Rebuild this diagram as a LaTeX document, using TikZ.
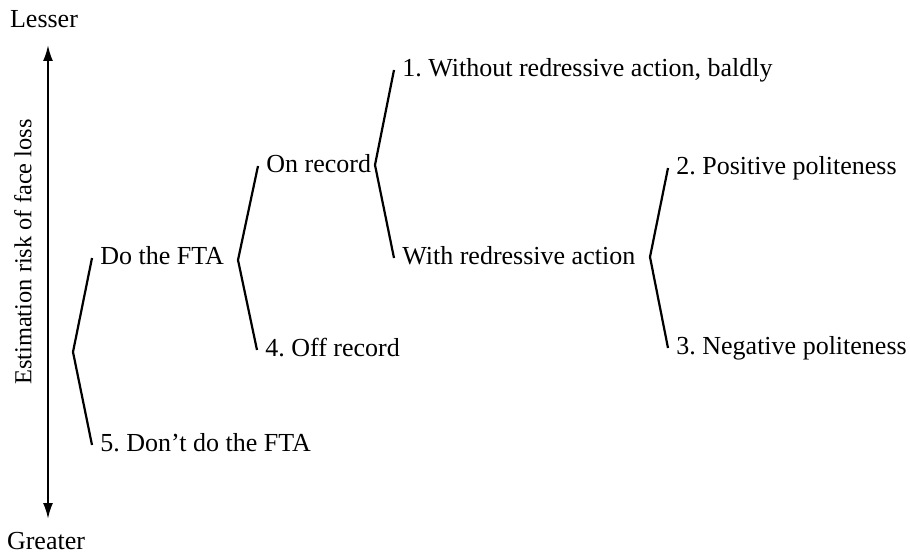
\documentclass[tikz,border=0pt]{standalone}
\usepackage{fontspec}
\setmainfont{Liberation Serif}
\usetikzlibrary{arrows.meta}
\frenchspacing

\begin{document}
\begin{tikzpicture}[
  x=0.5pt, y=-0.5pt,
  strategy/.style={anchor=west, inner xsep=4pt, inner ysep=0pt,
                   font=\fontsize{13}{15}\selectfont,
                   text height=9pt, text depth=2.5pt},
  branch/.style={line width=1.1pt},
  axis/.style={{Latex[length=8pt,width=5pt]}-{Latex[length=8pt,width=5pt]}, line width=1.1pt},
]
\useasboundingbox (0,0) rectangle (910,556);

% --- Risk axis ---
\node[strategy, anchor=center] (lesser) at (44,21) {Lesser};
\node[strategy, anchor=center] (greater) at (46,543) {Greater};
\node[strategy, anchor=center, rotate=90, font=\fontsize{12.2}{14}\selectfont] (risk) at (25,252) {Estimation risk of face loss};
\coordinate (top) at (48,45);
\coordinate (bot) at (48,519);
\draw[axis] (top) -- (bot);

% --- Strategies ---
\coordinate (v1) at (73,352);
\node[strategy] (do) at (92,258) {Do the FTA};
\node[strategy] (dont) at (92,445) {5. Don't do the FTA};

\coordinate (v2) at (238,260);
\node[strategy] (on) at (258,166) {On record};
\node[strategy] (off) at (257,350) {4. Off record};

\coordinate (v3) at (375,165);
\node[strategy] (bald) at (394,70) {1. Without redressive action, baldly};
\node[strategy] (redress) at (394,258) {With redressive action};

\coordinate (v4) at (650,257);
\node[strategy] (pos) at (668,168) {2. Positive politeness};
\node[strategy] (neg) at (668,348) {3. Negative politeness};

% Branches
\draw[branch] (do.west) -- (v1) -- (dont.west);
\draw[branch] (on.west) -- (v2) -- (off.west);
\draw[branch] (bald.west) -- (v3) -- (redress.west);
\draw[branch] (pos.west) -- (v4) -- (neg.west);
\end{tikzpicture}
\end{document}
